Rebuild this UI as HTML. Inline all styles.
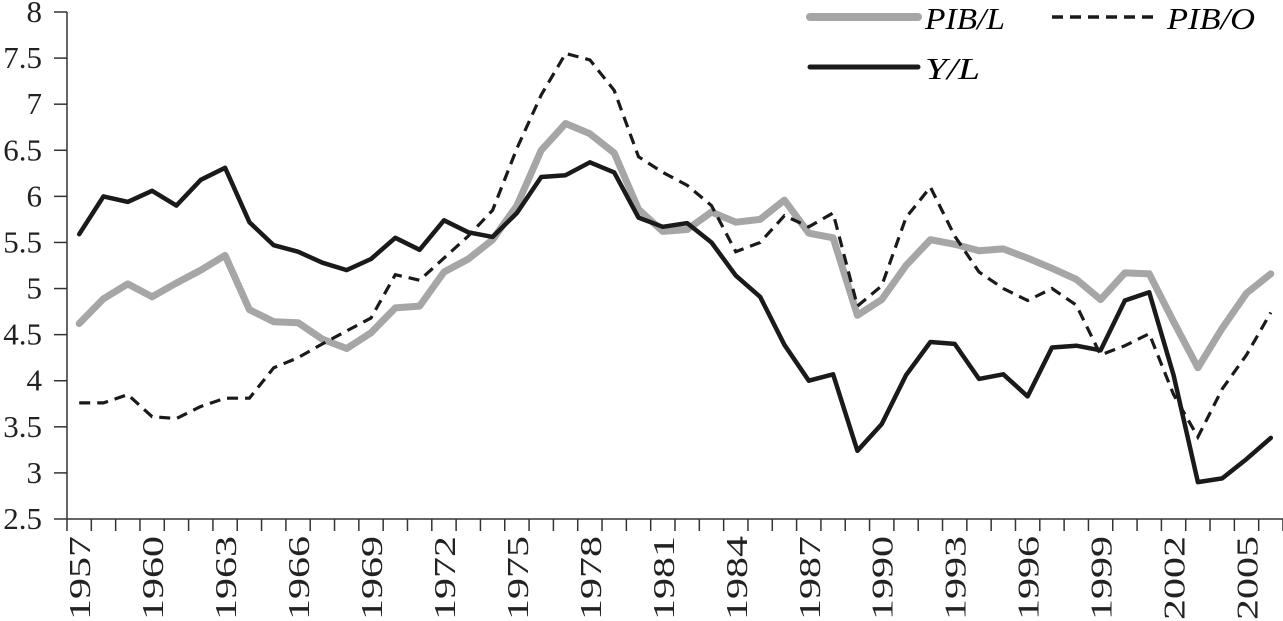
<!DOCTYPE html>
<html><head><meta charset="utf-8"><style>
html,body{margin:0;padding:0;background:#fff;}
svg{display:block;font-family:"Liberation Serif",serif;}
</style></head><body>
<svg id="chart" width="1283" height="621" xmlns="http://www.w3.org/2000/svg">
<g id="axes"></g>
<g id="series"></g>
<g id="legend">
  <line x1="810" y1="17" x2="918" y2="17" stroke="#a6a6a6" stroke-width="8" stroke-linecap="round"/>
  <text x="925" y="29" font-size="31" font-style="italic" textLength="80" lengthAdjust="spacingAndGlyphs">PIB/L</text>
  <line x1="1052" y1="17" x2="1155" y2="17" stroke="#1a1a1a" stroke-width="3.5" stroke-dasharray="11,7"/>
  <text x="1167" y="29" font-size="31" font-style="italic" textLength="88" lengthAdjust="spacingAndGlyphs">PIB/O</text>
  <line x1="810" y1="67" x2="918" y2="67" stroke="#1a1a1a" stroke-width="5" stroke-linecap="round"/>
  <text x="925" y="79" font-size="31" font-style="italic" textLength="55" lengthAdjust="spacingAndGlyphs">Y/L</text>
</g>
</svg>
<script>
const years = [];
for (let y = 1957; y <= 2006; y++) years.push(y);
const yTicks = [2.5,3,3.5,4,4.5,5,5.5,6,6.5,7,7.5,8];
const yTickLabels = ["2.5","3","3.5","4","4.5","5","5.5","6","6.5","7","7.5","8"];
const pibL = [4.62,4.89,5.05,4.91,5.06,5.2,5.36,4.77,4.64,4.63,4.45,4.35,4.52,4.79,4.81,5.18,5.32,5.53,5.9,6.5,6.79,6.68,6.47,5.86,5.62,5.64,5.83,5.72,5.75,5.96,5.6,5.55,4.71,4.88,5.25,5.53,5.48,5.41,5.43,5.33,5.22,5.1,4.88,5.17,5.16,4.64,4.14,4.57,4.95,5.16];
const pibO = [3.76,3.76,3.85,3.61,3.59,3.72,3.81,3.81,4.14,4.25,4.4,4.54,4.68,5.15,5.09,5.33,5.57,5.85,6.52,7.1,7.55,7.48,7.15,6.43,6.26,6.12,5.9,5.4,5.5,5.79,5.67,5.82,4.81,5.03,5.77,6.1,5.57,5.18,5.0,4.87,5.0,4.82,4.28,4.38,4.51,3.85,3.39,3.91,4.28,4.74];
const yL = [5.59,6.0,5.94,6.06,5.9,6.18,6.31,5.72,5.47,5.4,5.28,5.2,5.32,5.55,5.42,5.74,5.61,5.56,5.82,6.21,6.23,6.37,6.26,5.77,5.67,5.71,5.5,5.14,4.91,4.39,4.0,4.07,3.24,3.53,4.06,4.42,4.4,4.02,4.07,3.83,4.36,4.38,4.33,4.87,4.96,4.06,2.9,2.94,3.15,3.38];

const NS = "http://www.w3.org/2000/svg";
const X0 = 67, X1 = 1283, YTOP = 12, YBOT = 519, VMIN = 2.5, VMAX = 8;
const band = (X1 - X0) / years.length;
function xScale(i){ return X0 + band*(i+0.5); }
function yScale(v){ return YBOT - (v - VMIN)/(VMAX - VMIN)*(YBOT - YTOP); }
function mk(tag, attrs, parent){
  const e = document.createElementNS(NS, tag);
  for (const k in attrs) e.setAttribute(k, attrs[k]);
  parent.appendChild(e); return e;
}
const axes = document.getElementById('axes');
const yAxis = mk('line',{x1:X0,y1:YTOP,x2:X0,y2:YBOT,stroke:'#333','stroke-width':1.5},axes);


const xAxis = mk('line',{x1:X0,y1:YBOT,x2:X1,y2:YBOT,stroke:'#333','stroke-width':1.5},axes);


yTicks.forEach((v,i)=>{
  const yy = yScale(v);
  const t = mk('line',{x1:X0-13,y1:yy,x2:X0,y2:yy,stroke:'#333','stroke-width':1.5},axes);
  
  
  const lb = mk('text',{x:42,y:yy+10,'font-size':31,'text-anchor':'end',fill:'#222'},axes);
  lb.textContent = yTickLabels[i];
  
  
});
for (let i=0;i<=years.length;i++){
  const xx = X0 + band*i;
  const t = mk('line',{x1:xx,y1:YBOT,x2:xx,y2:YBOT+12,stroke:'#333','stroke-width':1.5},axes);
  
  
}
years.forEach((yr,i)=>{
  if ((yr-1957)%3!==0) return;
  const xx = xScale(i);
  const lb = mk('text',{x:0,y:0,'font-size':31,'text-anchor':'end',fill:'#222',textLength:84,lengthAdjust:'spacingAndGlyphs',transform:`translate(${xx+11},536) rotate(-90)`},axes);
  lb.textContent = String(yr);
  
  
});
const series = document.getElementById('series');
function pts(arr){ return arr.map((v,i)=>xScale(i).toFixed(1)+','+yScale(v).toFixed(1)).join(' '); }
const l1 = mk('polyline',{points:pts(pibL),fill:'none',stroke:'#a6a6a6','stroke-width':7,'stroke-linejoin':'round','stroke-linecap':'round'},series);


const l2 = mk('polyline',{points:pts(pibO),fill:'none',stroke:'#1a1a1a','stroke-width':3.2,'stroke-dasharray':'11,7'},series);


const l3 = mk('polyline',{points:pts(yL),fill:'none',stroke:'#1a1a1a','stroke-width':4.5,'stroke-linejoin':'round','stroke-linecap':'round'},series);


</script>
</body></html>
